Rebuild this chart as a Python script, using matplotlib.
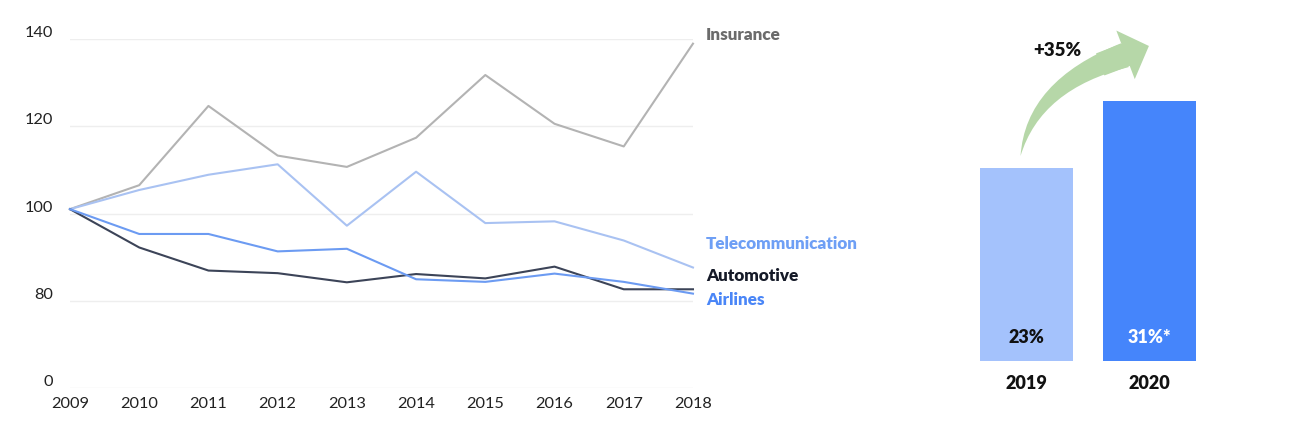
import matplotlib.pyplot as plt

plt.rcParams['font.family'] = ['Lato', 'DejaVu Sans']

years = [2009, 2010, 2011, 2012, 2013, 2014, 2015, 2016, 2017, 2018]
insurance = [101, 106.5, 124.7, 113.3, 110.7, 117.4, 131.8, 120.6, 115.4, 139.0]
telecom = [101, 105.4, 108.9, 111.3, 97.2, 109.6, 97.8, 98.2, 93.8, 87.6]
automotive = [101, 92.2, 86.9, 86.3, 84.2, 86.1, 85.1, 87.8, 82.6, 82.6]
airlines = [101, 95.3, 95.3, 91.3, 91.9, 84.9, 84.3, 86.2, 84.3, 81.6]

# y ticks: the bottom tick is shown as "0" (axis break)
ytick_vals = [60, 80, 100, 120, 140]
ytick_labels = ["0", "80", "100", "120", "140"]

bar_years = ["2019", "2020"]
bar_values = [23, 31]
bar_labels = ["23%", "31%*"]
growth_label = "+35%"

BOLD = 'heavy'
GREEN = "#b6d7a8"

fig = plt.figure(figsize=(12.89, 4.27), dpi=100)

# ---- line chart
ax = fig.add_axes([0.0543, 0.0897, 0.4833, 0.8159])
series = [
    ("Insurance", insurance, "#b3b3b3", "#6b6b6b", 141.2),
    ("Telecommunication", telecom, "#a9c2f2", "#6e9ff5", 93.3),
    ("Automotive", automotive, "#3c4458", "#151a28", 85.8),
    ("Airlines", airlines, "#6c9bf2", "#4a86f7", 80.3),
]
for name, vals, col, lab_col, lab_y in series:
    ax.plot(years, vals, color=col, lw=1.5, clip_on=False, zorder=3)
    ax.text(2018.19, lab_y, name, color=lab_col, fontsize=12.3, fontweight=BOLD,
            va='center', ha='left')

ax.set_xlim(2009, 2018)
ax.set_ylim(60, 140)
ax.set_yticks(ytick_vals)
ax.set_yticklabels(ytick_labels, va='bottom', fontsize=11.8, color='#222222')
ax.set_xticks(years)
ax.set_xticklabels([str(y) for y in years], fontsize=11.8, color='#222222')
ax.tick_params(axis='y', length=0, pad=12)
ax.tick_params(axis='x', length=0, pad=6)
ax.grid(axis='y', color='#eeeeee', lw=1)
ax.set_axisbelow(True)
for s in ax.spines.values():
    s.set_visible(False)

# ---- bar chart
ax2 = fig.add_axes([0.7486, 0.1522, 0.1908, 0.787])
ax2.bar([0, 1], bar_values, width=0.756, color=["#a4c2fc", "#4585fb"])
ax2.set_xlim(-0.5, 1.5)
ax2.set_ylim(0, 40)
for i, t in enumerate(bar_labels):
    ax2.text(i, 2.86, t, ha='center', va='center', fontsize=13, fontweight=BOLD,
             color='#111111' if i == 0 else 'white')
ax2.set_xticks([0, 1])
ax2.set_xticklabels(bar_years, fontsize=13, fontweight=BOLD, color='#111111')
ax2.tick_params(axis='x', length=0, pad=9)
ax2.set_yticks([])
for s in ax2.spines.values():
    s.set_visible(False)

# curved growth arrow: tapered body (wedge) + head
ax2.annotate("", xy=(-0.048, 24.4), xytext=(0.80, 36.4), annotation_clip=False,
             arrowprops=dict(arrowstyle="wedge,tail_width=0.9,shrink_factor=0.55",
                             connectionstyle="angle3,angleA=18,angleB=80",
                             color=GREEN, lw=0, mutation_scale=20,
                             shrinkA=0, shrinkB=0))
ax2.annotate("", xy=(0.996, 37.5), xytext=(0.60, 35.3), annotation_clip=False,
             arrowprops=dict(arrowstyle="simple,head_length=0.9,head_width=1.87,tail_width=0.85",
                             color=GREEN, lw=0, mutation_scale=20,
                             shrinkA=0, shrinkB=0))
ax2.text(0.25, 37.1, growth_label, ha='center', va='center', fontsize=13.5,
         fontweight=BOLD, color='#111111')

fig.savefig("out.png", dpi=100)
